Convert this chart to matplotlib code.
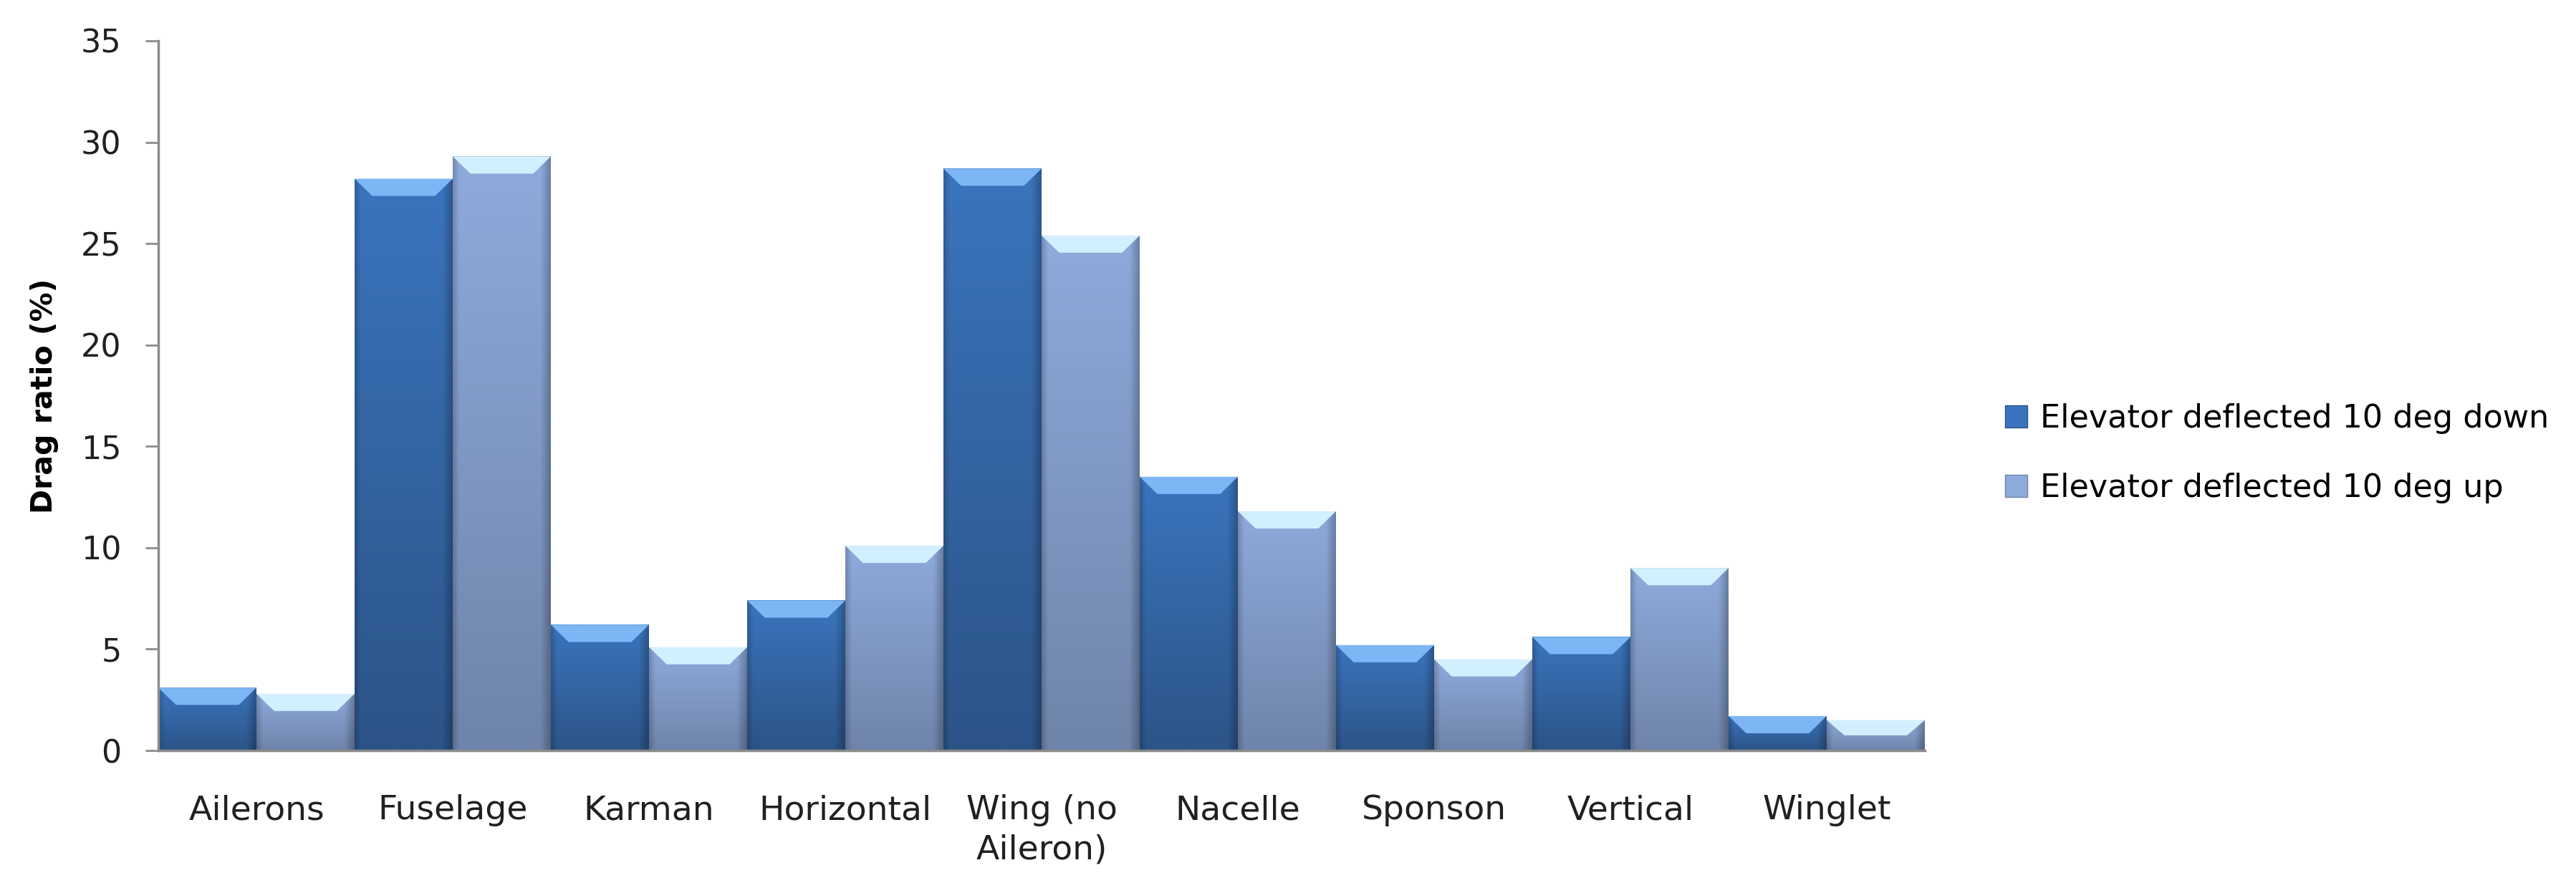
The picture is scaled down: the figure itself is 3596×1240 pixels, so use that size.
import numpy as np
import matplotlib
matplotlib.use("Agg")
import matplotlib.pyplot as plt
from matplotlib.patches import Polygon, Patch
from matplotlib.colors import to_rgb

categories = ["Ailerons", "Fuselage", "Karman", "Horizontal", "Wing (no\nAileron)",
              "Nacelle", "Sponson", "Vertical", "Winglet"]
down_vals = [3.1, 28.2, 6.2, 7.4, 28.7, 13.5, 5.2, 5.6, 1.7]
up_vals = [2.8, 29.3, 5.1, 10.1, 25.4, 11.8, 4.5, 9.0, 1.5]
series_names = ["Elevator deflected 10 deg down", "Elevator deflected 10 deg up"]

# (top colour, bottom colour, bevel colour)
styles = [("#3b74bd", "#2c5488", "#7db6f4"),
          ("#8eaadb", "#6f84aa", "#d2efff")]

W, H = 3596, 1240
fig = plt.figure(figsize=(W / 100, H / 100), dpi=100)
ax = fig.add_axes([221 / W, 1 - 1048 / H, (2687 - 221) / W, (1048 - 57) / H])

x = np.arange(len(categories))
bw = 0.5
ymax = 35
bevel_h = 0.85
bevel_dx = 0.09


def shade_bar(rect, top, bottom, bevel):
    x0, w, h = rect.get_x(), rect.get_width(), rect.get_height()
    t = np.linspace(0, 1, 60)[:, None]
    c_top, c_bot = np.array(to_rgb(top)), np.array(to_rgb(bottom))
    col = c_top[None, None, :] * (1 - t[..., None]) + c_bot[None, None, :] * t[..., None]
    u = np.linspace(0, 1, 80)[None, :]
    edge = 1 - 0.18 * np.clip(1 - u / 0.06, 0, 1) - 0.25 * np.clip((u - 0.9) / 0.1, 0, 1)
    img = np.clip(col * edge[..., None], 0, 1)
    im = ax.imshow(img, extent=[x0, x0 + w, 0, h], origin="upper",
                   aspect="auto", zorder=2, interpolation="bilinear")
    im.set_clip_path(rect)
    bh = min(bevel_h, h * 0.5)
    poly = Polygon([(x0, h), (x0 + w, h), (x0 + w - bevel_dx, h - bh), (x0 + bevel_dx, h - bh)],
                   closed=True, facecolor=bevel, edgecolor="none", zorder=3)
    ax.add_patch(poly)


for vals, off, (top, bottom, bevel) in zip([down_vals, up_vals], [-bw / 2, bw / 2], styles):
    bars = ax.bar(x + off, vals, width=bw, color=bottom, edgecolor="none", zorder=1)
    for rect in bars:
        shade_bar(rect, top, bottom, bevel)

ax.set_xlim(-0.5, len(categories) - 0.5)
ax.set_ylim(0, ymax)
ax.set_yticks(np.arange(0, ymax + 1, 5))
ax.set_xticks(x)
ax.set_xticklabels(categories, fontsize=34, family="DejaVu Sans", color="#202020",
                   linespacing=1.3)
ax.tick_params(axis="x", length=0, pad=44)
ax.tick_params(axis="y", length=13, width=2, color="#8c8c8c", labelsize=32,
               labelcolor="#202020", pad=24)
for s in ["top", "right"]:
    ax.spines[s].set_visible(False)
for s in ["left", "bottom"]:
    ax.spines[s].set_color("#8c8c8c")
    ax.spines[s].set_linewidth(2.5)
ax.set_ylabel("Drag ratio (%)", fontsize=29.5, fontweight="bold", labelpad=22)

handles = [Patch(facecolor=styles[0][0], edgecolor=styles[0][1]),
           Patch(facecolor=styles[1][0], edgecolor=styles[1][1])]
fig.legend(handles, series_names, loc="center left",
           bbox_to_anchor=(2759 / W, 1 - 633 / H), frameon=False,
           prop={"family": "DejaVu Sans", "size": 32}, handlelength=0.7, handleheight=0.7,
           handletextpad=0.4, labelspacing=1.2)

fig.savefig("out.png", dpi=100, facecolor="white")
